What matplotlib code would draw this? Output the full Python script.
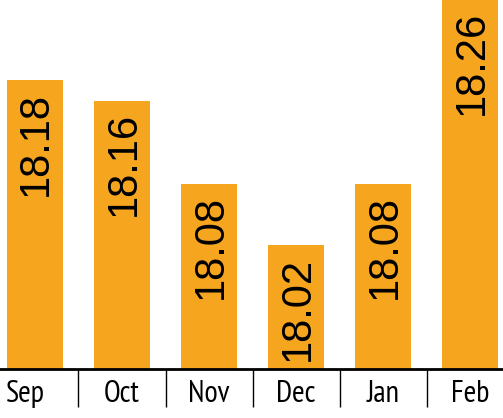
import matplotlib
matplotlib.use('Agg')
from matplotlib import pyplot as plt
from matplotlib.ticker import FixedLocator
import matplotlib.transforms as mtransforms

months = ['Sep', 'Oct', 'Nov', 'Dec', 'Jan', 'Feb']
values = [18.18, 18.16, 18.08, 18.02, 18.08, 18.26]
value_labels = ['18.18', '18.16', '18.08', '18.02', '18.08', '18.26']

bar_color = '#F6A51E'

fig = plt.figure(figsize=(5.03, 4.18), dpi=100)
ax = fig.add_axes([0, 0.117, 1, 0.883])

x = list(range(len(months)))
bars = ax.bar(x, [v - 17.90 for v in values], bottom=17.90, width=0.644,
              color=bar_color, clip_on=True)

ax.set_ylim(17.90, 18.258)
ax.set_xlim(-0.402, 5.378)

for rect, lab in zip(bars, value_labels):
    top = min(rect.get_y() + rect.get_height(), 18.258)
    ax.annotate(lab, (rect.get_x() + rect.get_width() / 2, top),
                xytext=(1, -8), textcoords='offset points',
                rotation=90, ha='center', va='top',
                fontsize=30, family='Liberation Sans', color='black')

# axis styling
for s in ['top', 'left', 'right']:
    ax.spines[s].set_visible(False)
ax.spines['bottom'].set_linewidth(2.0)
ax.yaxis.set_visible(False)

ax.set_xticks(x)
ax.set_xticklabels(months)
ax.tick_params(axis='x', which='major', length=0, pad=8)
ax.xaxis.set_minor_locator(FixedLocator([i + 0.5 for i in x[:-1]]))
ax.tick_params(axis='x', which='minor', length=27, width=1.0, direction='out', color='black')

for lbl in ax.get_xticklabels():
    lbl.set_fontfamily('PT Sans Narrow')
    lbl.set_fontsize(22)
first = ax.get_xticklabels()[0]
first.set_transform(first.get_transform() + mtransforms.ScaledTranslation(-0.10, 0, fig.dpi_scale_trans))

plt.savefig('out.png', dpi=100)
